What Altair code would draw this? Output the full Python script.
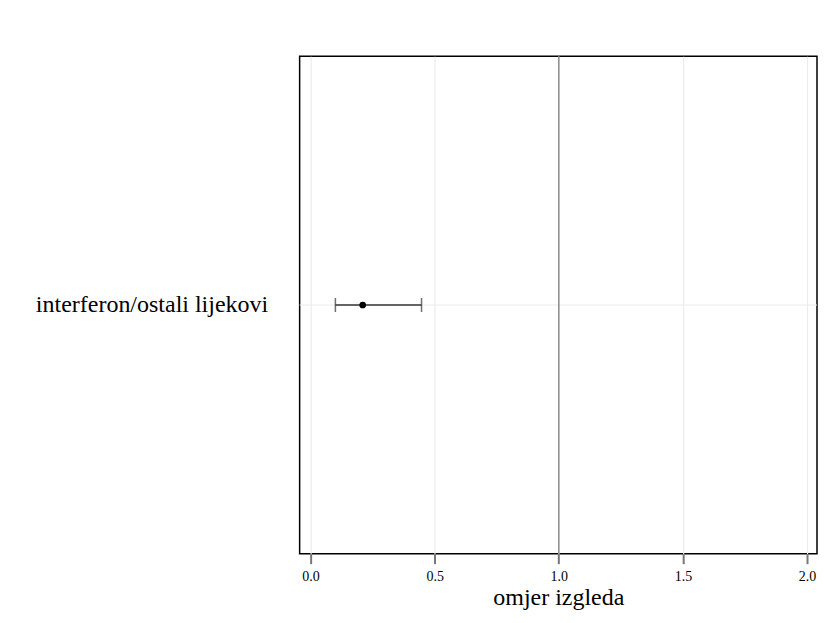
import altair as alt
import pandas as pd

labels = ["interferon/ostali lijekovi"]
odds = [0.21]
lower = [0.10]
upper = [0.447]
ref_value = [1.0]
x_ticks = [0.0, 0.5, 1.0, 1.5, 2.0]

df = pd.DataFrame({"label": labels, "or": odds, "lo": lower, "hi": upper})
ref = pd.DataFrame({"v": ref_value})

FONT = "Liberation Serif"
xscale = alt.Scale(domain=[-0.044, 2.040], nice=False, zero=False)
yenc = alt.Y("label:N", title=None,
             axis=alt.Axis(labelFont=FONT, labelFontSize=24, labelColor="black",
                           labelPadding=32, ticks=False, domain=False, grid=False,
                           minExtent=292, maxExtent=292, labelLimit=400))

hgrid = alt.Chart(df).mark_rule(color="#ebebeb", strokeWidth=1).encode(y=yenc)

refline = alt.Chart(ref).mark_rule(color="#8c8c8c", strokeWidth=1.5).encode(
    x=alt.X("v:Q", scale=xscale,
            axis=alt.Axis(values=x_ticks, format=".1f", title="omjer izgleda",
                          titleFont=FONT, titleFontSize=24, titleFontWeight="normal",
                          titleColor="black", titlePadding=2,
                          labelFont=FONT, labelFontSize=14, labelColor="black",
                          labelPadding=6, tickSize=10, tickColor="#777",
                          tickWidth=2, domain=False, grid=True,
                          gridColor="#ececec", gridWidth=1.2)))

bar = alt.Chart(df).mark_rule(color="#333", strokeWidth=1.5).encode(
    x=alt.X("lo:Q", scale=xscale), x2="hi:Q", y=yenc)
caps_lo = alt.Chart(df).mark_tick(color="#333", size=14, thickness=1.5).encode(
    x=alt.X("lo:Q", scale=xscale), y=yenc)
caps_hi = alt.Chart(df).mark_tick(color="#333", size=14, thickness=1.5).encode(
    x=alt.X("hi:Q", scale=xscale), y=yenc)
pt = alt.Chart(df).mark_circle(color="black", size=45, opacity=1).encode(
    x=alt.X("or:Q", scale=xscale), y=yenc)

chart = alt.layer(hgrid, refline, bar, caps_lo, caps_hi, pt).properties(
    width=518, height=498,
    padding={"left": 0, "top": 47, "right": 0, "bottom": 2},
).configure(background="white").configure_view(stroke="black", strokeWidth=1.5)

chart.save("out.html", embed_options={"renderer": "svg", "actions": False})
